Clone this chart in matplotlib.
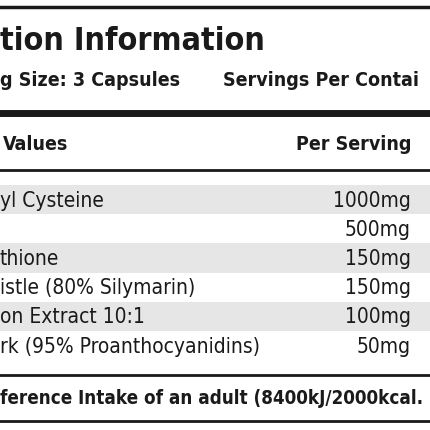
import matplotlib
matplotlib.use('Agg')
import matplotlib.pyplot as plt

# visible (cropped) part of the label
names = ["yl Cysteine", "", "thione", "istle (80% Silymarin)",
         "on Extract 10:1", "rk (95% Proanthocyanidins)"]
amounts = ["1000mg", "500mg", "150mg", "150mg", "100mg", "50mg"]

fnt = ['DejaVu Sans']
ink = '#1a1a1a'
kw = dict(family=fnt, stretch='condensed', va='center', color=ink)

fig = plt.figure(figsize=(4.3, 4.3), dpi=100)
ax = fig.add_axes([0, 0, 1, 1])
ax.set_xlim(0, 430)
ax.set_ylim(430, 0)
ax.axis('off')

ax.axhline(7, color=ink, lw=2.5)
ax.text(0, 42, "tion Information", fontsize=23, fontweight='bold', **kw)
ax.text(0, 81, "g Size: 3 Capsules", fontsize=14, fontweight='bold', **kw)
ax.text(223, 81, "Servings Per Contai", fontsize=14, fontweight='bold', **kw)
ax.axhline(113, color=ink, lw=5)
ax.text(3, 145, "Values", fontsize=14, fontweight='bold', **kw)
ax.text(411, 145, "Per Serving", fontsize=14, fontweight='bold', ha='right', **kw)
ax.axhline(170, color=ink, lw=2)

top, h = 185, 29.2
for i, (n, a) in enumerate(zip(names, amounts)):
    y0 = top + i * h
    if i % 2 == 0:
        ax.axhspan(y0, y0 + h, color='#e6e6e6', lw=0)
    ax.text(0, y0 + h / 2 + 1, n, fontsize=15, **kw)
    ax.text(411, y0 + h / 2 + 1, a, fontsize=15, ha='right', **kw)

ax.axhline(375, color=ink, lw=2)
ax.text(0, 398, "ference Intake of an adult (8400kJ/2000kcal.", fontsize=13.5,
        fontweight='bold', **kw)
ax.axhline(421, color=ink, lw=2)

fig.savefig('out.png', dpi=100)
